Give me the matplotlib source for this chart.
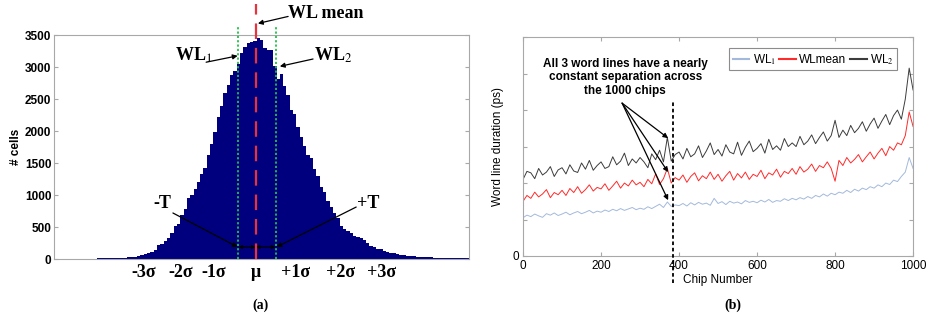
import numpy as np
import matplotlib.pyplot as plt

plt.rcParams["mathtext.fontset"] = "stix"

# ---- panel (a): histogram of cell counts (bin index along x) ----
hist_counts = [3, 3, 4, 4, 4, 5, 5, 5, 6, 6,
               6, 7, 7, 8, 9, 10, 11, 12, 14, 16,
               18, 20, 24, 28, 35, 48, 62, 78, 95, 115,
               140, 215, 235, 285, 330, 400, 520, 545, 680, 780,
               960, 1000, 1090, 1200, 1330, 1420, 1620, 1800, 1990, 2220,
               2390, 2600, 2720, 2880, 2930, 3040, 3220, 3320, 3370, 3390,
               3410, 3450, 3420, 3290, 3270, 3260, 3010, 2820, 2890, 2700,
               2560, 2330, 2270, 2060, 1910, 1760, 1620, 1580, 1410, 1290,
               1120, 1050, 900, 820, 720, 640, 510, 470, 430, 400,
               360, 340, 330, 290, 245, 210, 190, 160, 150, 125,
               110, 100, 90, 75, 65, 55, 50, 45, 40, 35,
               32, 28, 25, 24, 22, 20, 18, 16, 15, 14,
               13, 12, 11, 10, 9]
wl_mean_bin = 60.7
wl1_bin = 55.5
wl2_bin = 66.7
sigma_labels = ["-3σ", "-2σ", "-1σ", "μ", "+1σ", "+2σ", "+3σ"]
sigma_pos = [27.0, 38.2, 48.2, 60.7, 72.7, 86.2, 98.5]

# ---- panel (b): word line duration per chip ----
chips = list(range(0, 1001, 10))
wl2 = [2.10, 2.32, 2.28, 2.12, 2.40, 2.22, 2.30, 2.45, 2.18, 2.36,
       2.42, 2.25, 2.50, 2.33, 2.29, 2.55, 2.38, 2.62, 2.35, 2.48,
       2.58, 2.40, 2.45, 2.72, 2.50, 2.60, 2.82, 2.48, 2.66, 2.55,
       2.70, 2.58, 2.42, 2.80, 2.64, 2.90, 2.58, 3.25, 2.60, 2.78,
       2.85, 2.66, 2.95, 2.72, 2.80, 3.02, 2.70, 2.88, 3.10, 2.78,
       2.92, 2.74, 3.05, 2.85, 2.80, 3.12, 2.76, 2.98, 3.15, 2.86,
       2.95, 3.08, 2.82, 3.20, 2.92, 3.02, 2.90, 3.22, 3.00, 3.10,
       3.00, 3.28, 3.05, 3.15, 3.32, 3.08, 3.25, 3.40, 3.15, 3.30,
       3.72, 3.25, 3.45, 3.30, 3.58, 3.38, 3.50, 3.68, 3.42, 3.62,
       3.78, 3.50, 3.70, 3.88, 3.60, 3.85, 4.00, 3.75, 4.30, 5.15,
       4.55]
wlmean = [1.50, 1.66, 1.58, 1.75, 1.62, 1.70, 1.82, 1.60, 1.74, 1.68,
          1.80, 1.66, 1.85, 1.74, 1.90, 1.72, 1.82, 1.95, 1.78, 1.88,
          1.84, 1.98, 1.80, 1.92, 2.05, 1.86, 2.00, 1.92, 2.08, 1.95,
          2.02, 1.90, 2.10, 1.98, 2.25, 1.96, 2.12, 2.40, 2.00, 2.15,
          2.08, 2.22, 2.02, 2.18, 2.28, 2.06, 2.20, 2.12, 2.30, 2.10,
          2.24, 2.05, 2.20, 2.32, 2.08, 2.26, 2.14, 2.30, 2.10, 2.24,
          2.18, 2.35, 2.12, 2.28, 2.22, 2.38, 2.16, 2.32, 2.26, 2.40,
          2.24, 2.45, 2.30, 2.38, 2.52, 2.32, 2.48, 2.42, 2.58, 2.40,
          2.05, 2.62, 2.48, 2.70, 2.55, 2.65, 2.78, 2.58, 2.72, 2.85,
          2.66, 2.82, 2.95, 2.75, 3.00, 2.90, 3.10, 3.05, 3.30, 3.95,
          3.55]
wl1 = [1.05, 1.12, 1.08, 1.15, 1.10, 1.06, 1.16, 1.12, 1.18, 1.11,
       1.15, 1.20, 1.13, 1.18, 1.22, 1.16, 1.20, 1.25, 1.18, 1.23,
       1.20, 1.26, 1.22, 1.28, 1.24, 1.30, 1.25, 1.29, 1.33, 1.27,
       1.31, 1.28, 1.35, 1.30, 1.36, 1.42, 1.33, 1.48, 1.36, 1.40,
       1.38, 1.44, 1.37, 1.46, 1.40, 1.47, 1.42, 1.45, 1.39, 1.58,
       1.44, 1.49, 1.41, 1.50, 1.45, 1.48, 1.43, 1.52, 1.47, 1.50,
       1.46, 1.53, 1.48, 1.55, 1.47, 1.52, 1.50, 1.57, 1.52, 1.58,
       1.54, 1.60, 1.56, 1.63, 1.58, 1.66, 1.62, 1.70, 1.64, 1.72,
       1.68, 1.75, 1.72, 1.80, 1.74, 1.83, 1.78, 1.86, 1.82, 1.90,
       1.86, 1.95, 1.90, 2.00, 1.96, 2.08, 2.04, 2.18, 2.30, 2.70,
       2.40]
marked_chip = 385

serif = "Liberation Serif"
sans = "Liberation Sans"
frame = "#a8a8a8"

fig = plt.figure(figsize=(9.32, 3.2), dpi=100)

# ================= (a) =================
ax1 = fig.add_axes([0.058, 0.1906, 0.4453, 0.70])
ax1.bar(np.arange(len(hist_counts)), hist_counts, width=1.0, align="edge",
        color="#00007f", linewidth=0)
ax1.set_xlim(0, len(hist_counts))
ax1.set_ylim(0, 3500)
ax1.set_yticks(range(0, 3501, 500))
ax1.set_xticks([])
ax1.tick_params(axis="y", direction="in", right=True, length=3, color=frame,
                labelsize=8.5, pad=2)
for lab in ax1.get_yticklabels():
    lab.set_fontweight("bold")
    lab.set_family(sans)
for s in ax1.spines.values():
    s.set_color(frame)
    s.set_linewidth(0.8)
ax1.set_ylabel("# cells", fontsize=8.5, fontweight="bold", family=sans, labelpad=2)

ax1.plot([wl_mean_bin, wl_mean_bin], [0, 3984], color="#e8323c",
         lw=1.6, dashes=(7, 4), clip_on=False, zorder=4)
for xb in (wl1_bin, wl2_bin):
    ax1.plot([xb, xb], [0, 3640], color="#22c04a", lw=1.3, ls=(0, (1.2, 1.2)),
             clip_on=False, zorder=4)

txt = dict(family=serif, fontweight="bold", fontsize=13, ha="center", va="center")
arr = dict(arrowstyle="-|>", color="k", lw=0.9, mutation_scale=7, shrinkA=0, shrinkB=0)
ax1.text(70.6, 3830, "WL mean", ha="left", va="center", family=serif,
         fontweight="bold", fontsize=13, clip_on=False)
ax1.annotate("", xy=(61.4, 3680), xytext=(70.5, 3790), arrowprops=arr,
             annotation_clip=False)
ax1.text(42.0, 3190, "WL$_1$", **txt)
ax1.annotate("", xy=(55.3, 3175), xytext=(45.8, 3075), arrowprops=arr)
ax1.text(84.0, 3190, "WL$_2$", **txt)
ax1.annotate("", xy=(68.0, 3010), xytext=(78.0, 3125), arrowprops=arr)
ax1.text(32.5, 875, "-T", **txt)
ax1.annotate("", xy=(55.3, 187), xytext=(35.8, 719), arrowprops=arr)
ax1.text(94.6, 875, "+T", **txt)
ax1.annotate("", xy=(67.0, 187), xytext=(91.0, 812), arrowprops=arr)
dbl = dict(arrowstyle="<|-|>", color="k", lw=0.9, mutation_scale=5, shrinkA=0, shrinkB=0)
ax1.annotate("", xy=(wl1_bin, 187), xytext=(wl_mean_bin, 187), arrowprops=dbl)
ax1.annotate("", xy=(wl_mean_bin, 187), xytext=(wl2_bin, 187), arrowprops=dbl)

for lab, xp in zip(sigma_labels, sigma_pos):
    ax1.text(xp, -205, lab, family=serif, fontweight="bold", fontsize=13,
             ha="center", va="center", clip_on=False)

fig.text(0.279, 0.047, "(a)", family=serif, fontweight="bold", fontsize=10,
         ha="center", va="center")

# ================= (b) =================
ax2 = fig.add_axes([0.5612, 0.20, 0.4185, 0.684])
ax2.plot(chips, wl1, color="#a3b9dc", lw=0.7, label="WL$_1$")
ax2.plot(chips, wlmean, color="#ff2a2a", lw=0.7, label="WLmean")
ax2.plot(chips, wl2, color="#3c3c3c", lw=0.7, label="WL$_2$")
ax2.set_xlim(0, 1000)
ax2.set_ylim(0, 6)
ax2.set_xticks(range(0, 1001, 200))
ax2.set_yticks(range(0, 7))
ax2.set_yticklabels(["0", "", "", "", "", "", ""])
ax2.tick_params(direction="in", top=True, right=True, length=3, color=frame,
                labelsize=8.5, pad=3)
for lab in ax2.get_xticklabels() + ax2.get_yticklabels():
    lab.set_family(sans)
for s in ax2.spines.values():
    s.set_color(frame)
    s.set_linewidth(0.8)
ax2.set_xlabel("Chip Number", fontsize=8.5, family=sans, labelpad=1)
ax2.set_ylabel("Word line duration (ps)", fontsize=8.5, family=sans, labelpad=6)

leg = ax2.legend(loc="upper right", ncol=3, frameon=True, fancybox=False,
                 handlelength=1.4, handletextpad=0.3, columnspacing=0.3,
                 borderpad=0.3, bbox_to_anchor=(0.975, 0.975),
                 prop={"family": sans, "size": 8.5})
leg.get_frame().set_edgecolor("#707070")
leg.get_frame().set_linewidth(0.8)
for line in leg.get_lines():
    line.set_linewidth(1.5)

ax2.plot([marked_chip, marked_chip], [-0.75, 4.23], color="k", lw=1.3,
         ls=(0, (2, 1.5)), clip_on=False, zorder=5)
ax2.text(262, 4.9, "All 3 word lines have a nearly\nconstant separation across\nthe 1000 chips",
         ha="center", va="center", fontsize=8.5, fontweight="bold", family=sans,
         linespacing=1.15)
for yy in (3.23, 2.30, 1.53):
    ax2.annotate("", xy=(372, yy), xytext=(254, 4.19),
                 arrowprops=dict(arrowstyle="-|>", color="k", lw=0.9,
                                 mutation_scale=7, shrinkA=0, shrinkB=0))

fig.text(0.786, 0.047, "(b)", family=serif, fontweight="bold", fontsize=10,
         ha="center", va="center")

fig.savefig("out.png", dpi=100)
